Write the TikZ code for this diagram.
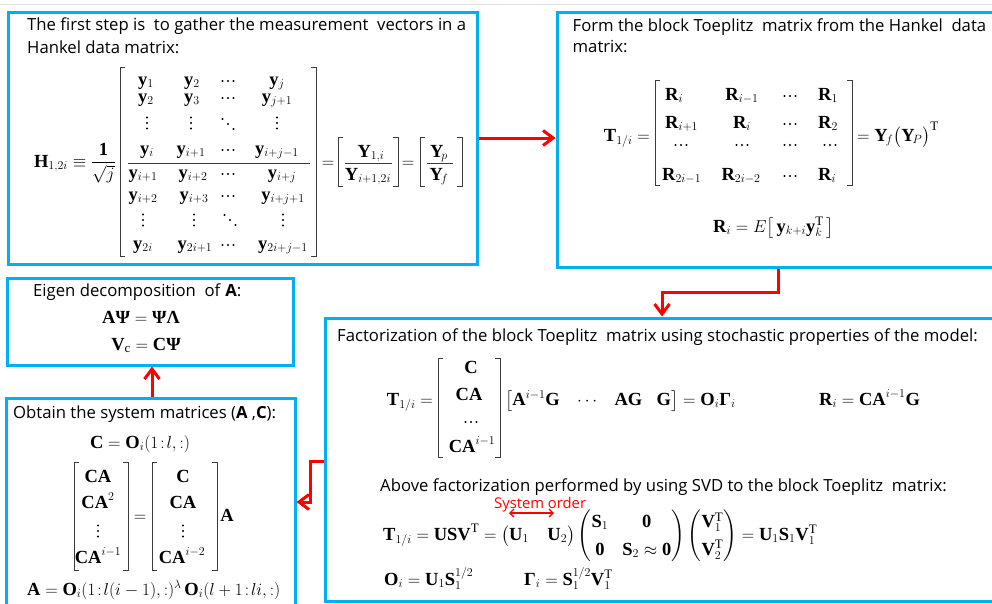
\documentclass[tikz,border=0pt]{standalone}
\usepackage{amsmath}
\usepackage{fontspec}
\setmainfont{Liberation Serif}
\setsansfont{Open Sans}
\usetikzlibrary{arrows.meta}
\definecolor{boxblue}{RGB}{0,176,240}
\definecolor{brkgray}{RGB}{60,60,60}
\newcommand\bgr[1]{\text{\rmfamily\bfseries\upshape #1}}
\newcommand\bb[1]{\mathbf{#1}}
\newcommand\Tt{\mathrm{T}}
\newcommand\cln{\mskip2mu{:}\mskip2mu}
\newcommand\vdt[2]{\foreach \nn in {-1,0,1}{\fill[dotc] ({#1},{#2+(\nn)*5.5}) circle (1.1);}}
\newcommand\cdt[2]{\foreach \nn in {-1,0,1}{\fill[dotc] ({#1+(\nn)*5.5},{#2}) circle (1.1);}}
\newcommand\ddt[2]{\foreach \nn in {-1,0,1}{\fill[dotc] ({#1+(\nn)*5.5},{#2+(\nn)*5}) circle (1.1);}}
\newcommand\lbrk[3]{\draw[brk] ({#1+5},{#2}) -- ({#1},{#2}) -- ({#1},{#3}) -- ({#1+5},{#3});}
\newcommand\rbrk[3]{\draw[brk] ({#1-5},{#2}) -- ({#1},{#2}) -- ({#1},{#3}) -- ({#1-5},{#3});}
\newcommand\ent[4]{\node[mth,anchor=base] (#1) at (#2,#3) {$#4$};}
\newcommand\entw[4]{\node[mth,anchor=base west] (#1) at (#2,#3) {$#4$};}
\begin{document}
\begin{tikzpicture}[x=1pt,y=-1pt,
 panel/.style={draw=boxblue,line width=3pt,inner sep=0pt},
 txt/.style={font=\sffamily\fontsize{16.7}{20}\selectfont,inner sep=0pt,anchor=base west},
 mth/.style={font=\fontsize{18.5}{22}\selectfont,inner sep=0pt},
 brk/.style={draw=brkgray,line width=1pt},
 dotc/.style={fill=black},
 arr/.style={draw=red,line width=3pt,-{Straight Barb[length=10pt,width=15pt]}},
 soarr/.style={draw=red,line width=1.3pt,{Straight Barb[length=4pt,width=8pt]}-{Straight Barb[length=4pt,width=8pt]}},
 topline/.style={draw=black!12,line width=1.2pt}]
\useasboundingbox (0,0) rectangle (992,603);
\fill[white] (0,0) rectangle (992,603);
\draw[topline] (0,4.5) -- (992,4.5);

% ---------- panels ----------
\node[panel,minimum width=469pt,minimum height=252pt] (bH) at (242.5,138) {};
\node[panel,minimum width=437pt,minimum height=255pt] (bT) at (775.5,139.5) {};
\node[panel,minimum width=286pt,minimum height=87pt] (bE) at (150,321.5) {};
\node[panel,minimum width=289pt,minimum height=208pt] (bO) at (150.5,502) {};
\node[panel,minimum width=670pt,minimum height=283pt] (bF) at (660,459.5) {};

% ---------- panel 1: Hankel ----------
\node[txt] (t1a) at (27,30.5) {The first step is~ to gather the measurement~ vectors in a};
\node[txt] (t1b) at (27,53.5) {Hankel data matrix:};
\node[mth,anchor=base east] (hH) at (116,167) {$\bb{H}_{1,2i}\equiv\dfrac{\bb{1}}{\sqrt{j}}$};
\lbrk{120}{67}{256}
\rbrk{316}{67}{256}
\ent{h11}{146}{85}{\bb{y}_1}
\ent{h12}{192}{85}{\bb{y}_2}
\cdt{228}{81}
\ent{h14}{277}{85}{\bb{y}_j}
\ent{h21}{146}{102}{\bb{y}_2}
\ent{h22}{192}{102}{\bb{y}_3}
\cdt{228}{98}
\ent{h24}{277}{102}{\bb{y}_{j+1}}
\vdt{147}{123}
\vdt{191}{123}
\ddt{228}{124}
\vdt{277}{123}
\ent{h41}{147}{154}{\bb{y}_i}
\ent{h42}{191}{154}{\bb{y}_{i+1}}
\cdt{228}{150}
\ent{h44}{277}{154}{\bb{y}_{i+j-1}}
\draw[brk] (128,163) -- (310,163);
\ent{h51}{143}{178}{\bb{y}_{i+1}}
\ent{h52}{193}{178}{\bb{y}_{i+2}}
\cdt{228}{174}
\ent{h54}{282}{178}{\bb{y}_{i+j}}
\ent{h61}{143}{200}{\bb{y}_{i+2}}
\ent{h62}{194}{200}{\bb{y}_{i+3}}
\cdt{228}{196}
\ent{h64}{283}{200}{\bb{y}_{i+j+1}}
\vdt{143}{220}
\vdt{194}{220}
\ddt{230}{220}
\vdt{283}{220}
\ent{h81}{143}{249}{\bb{y}_{2i}}
\ent{h82}{195}{249}{\bb{y}_{2i+1}}
\cdt{228}{245}
\ent{h84}{283}{249}{\bb{y}_{2i+j-1}}
\ent{he1}{328}{167}{=}
\lbrk{338}{137}{186}
\rbrk{398}{137}{186}
\ent{hy1}{371}{157}{\bb{Y}_{1,i}}
\draw[brk] (345,163) -- (392,163);
\ent{hy2}{368}{180}{\bb{Y}_{i+1,2i}}
\ent{he2}{408}{167}{=}
\lbrk{420}{137}{186}
\rbrk{462}{137}{186}
\ent{hyp}{439}{157}{\bb{Y}_{\!p}}
\draw[brk] (427,163) -- (453,163);
\ent{hyf}{439}{180}{\bb{Y}_{\!f}}

% ---------- panel 2: Toeplitz ----------
\node[txt] (t2a) at (572.5,31) {Form the block Toeplitz~ matrix from the Hankel~ data};
\node[txt] (t2b) at (572.5,52.5) {matrix:};
\node[mth,anchor=base east] (tT) at (650,141) {$\bb{T}_{1/i} =$};
\lbrk{655}{80}{185}
\rbrk{852}{80}{185}
\entw{r11}{665}{100}{\bb{R}_i}
\ent{r12}{742}{100}{\bb{R}_{i-1}}
\cdt{790}{96}
\entw{r14}{818}{100}{\bb{R}_1}
\entw{r21}{665}{128}{\bb{R}_{i+1}}
\ent{r22}{742}{128}{\bb{R}_i}
\cdt{790}{124}
\entw{r24}{818}{128}{\bb{R}_2}
\cdt{681}{145}
\cdt{742}{145}
\cdt{790}{145}
\cdt{830}{145}
\entw{r41}{662}{180}{\bb{R}_{2i-1}}
\ent{r42}{741}{180}{\bb{R}_{2i-2}}
\cdt{790}{176}
\entw{r44}{818}{180}{\bb{R}_i}
\entw{tY}{857}{141}{=\bb{Y}_{\!f}\bigl(\bb{Y}_{\!P}\bigr)^{\Tt}}
\entw{tE}{713}{232}{\bb{R}_i = E\bigl[\,\bb{y}_{k+i}\bb{y}_k^{\Tt}\,\bigr]}

% ---------- panel 3: eigen ----------
\node[txt] (t3) at (33,296) {Eigen decomposition~ of \textbf{A}:};
\ent{eq1}{141}{323}{\bb{A}\bgr{Ψ} = \bgr{Ψ}\bgr{Λ}}
\ent{eq2}{146}{350}{\bb{V}_{\mathrm{c}} = \bb{C}\bgr{Ψ}}

% ---------- panel 4: system matrices ----------
\node[txt] (t4) at (13,418) {Obtain the system matrices (\textbf{A} ,\textbf{C}):};
\ent{oc}{140}{448}{\bb{C} = \bb{O}_i(1\cln l,{:})}
\lbrk{74}{462}{570}
\rbrk{128}{462}{570}
\ent{m11}{98}{482}{\bb{CA}}
\ent{m12}{98}{508}{\bb{CA}^2}
\vdt{98}{531}
\ent{m14}{98}{563}{\bb{CA}^{i-1}}
\ent{meq}{140}{521}{=}
\lbrk{152}{462}{570}
\rbrk{217}{462}{570}
\ent{m21}{183}{482}{\bb{C}}
\ent{m22}{183}{508}{\bb{CA}}
\vdt{183}{531}
\ent{m24}{182}{563}{\bb{CA}^{i-2}}
\ent{mA}{227}{521}{\bb{A}}
\entw{oA}{27}{595}{\bb{A} = \bb{O}_i(1\cln l(i-1),{:})^{\lambda}\,\bb{O}_i(l+1\cln li,{:})}

% ---------- panel 5: factorization ----------
\node[txt] (t5a) at (337,341.5) {Factorization of the block Toeplitz~ matrix using stochastic properties of the model:};
\node[mth,anchor=base east] (fT) at (433,405) {$\bb{T}_{1/i} =$};
\lbrk{438}{358}{457}
\rbrk{500}{358}{457}
\ent{f1}{471}{373}{\bb{C}}
\ent{f2}{469}{400}{\bb{CA}}
\cdt{471}{422}
\ent{f4}{472}{452}{\bb{CA}^{i-1}}
\entw{fG}{505}{405}{\bigl[\bb{A}^{i-1}\bb{G}\;\;\;\cdots\;\;\;\bb{AG}\;\;\;\bb{G}\bigr]=\bb{O}_i\bgr{Γ}_i}
\entw{fR}{819}{405}{\bb{R}_i = \bb{CA}^{i-1}\bb{G}}
\node[txt] (t5b) at (380,491) {Above factorization performed by using SVD to the block Toeplitz~ matrix:};
\node[txt,text=red,font=\sffamily\fontsize{14.8}{18}\selectfont] (so) at (494,508) {System order};
\coordinate (so1) at (509,513);
\coordinate (so2) at (554,513);
\draw[soarr] (so1) -- (so2);
\node[mth,anchor=base west] (s1) at (383,540) {\renewcommand\arraystretch{1.27}\setlength\arraycolsep{7pt}$\bb{T}_{1/i} = \bb{USV}^{\Tt} = \bigl(\bb{U}_1\quad\bb{U}_2\bigr)\begin{pmatrix}\bb{S}_1 & \bb{0}\\ \bb{0} & \bb{S}_2\approx\bb{0}\end{pmatrix}\begin{pmatrix}\bb{V}_1^{\Tt}\\ \bb{V}_2^{\Tt}\end{pmatrix} = \bb{U}_1\bb{S}_1\bb{V}_1^{\Tt}$};
\entw{s2}{384}{585}{\bb{O}_i = \bb{U}_1\bb{S}_1^{1/2}}
\entw{s3}{524}{585}{\bgr{Γ}_i = \bb{S}_1^{1/2}\bb{V}_1^{\Tt}}

% ---------- connectors ----------
\coordinate (ya1) at (0,138);
\draw[arr] (bH.east |- ya1) -- (bT.west |- ya1);
\coordinate (xa2) at (778,0);
\coordinate (k2) at (662,292);
\draw[arr] (bT.south -| xa2) |- (k2) -- (k2 |- bF.north);
\coordinate (k3a) at (310,461);
\coordinate (k3b) at (310,502);
\draw[arr] (bF.west |- k3a) -- (k3a) -- (k3b) -- (bO.east |- k3b);
\coordinate (xa4) at (152,0);
\draw[arr] (bO.north -| xa4) -- (bE.south -| xa4);
\end{tikzpicture}
\end{document}
